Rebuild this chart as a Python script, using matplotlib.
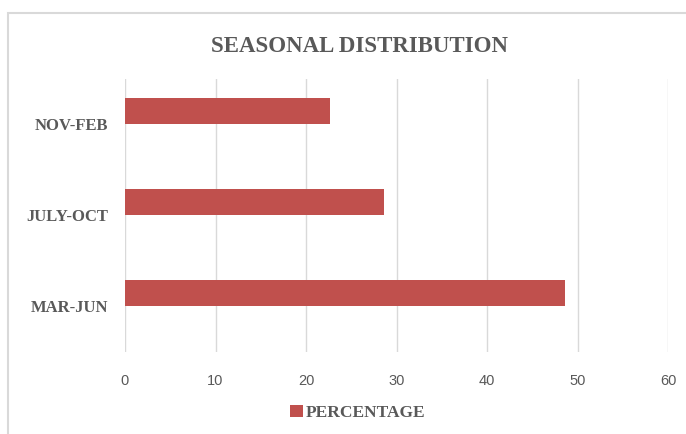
import matplotlib.pyplot as plt
from matplotlib.patches import Rectangle

# Répartition saisonnière (%)
saisons = ['MAR-JUN', 'JULY-OCT', 'NOV-FEB']
pourcentage = [48.6, 28.6, 22.6]
graduations = [0, 10, 20, 30, 40, 50, 60]

rouge = '#C0504D'
gris_texte = '#595959'
gris_grille = '#D9D9D9'

fig = plt.figure(figsize=(6.86, 4.34), dpi=100)
ax = fig.add_axes([0.1822, 0.189, 0.792, 0.629])

# cadre du graphique
fig.patches.append(Rectangle((8 / 686, -0.1), 1.1, (434 - 13) / 434 + 0.1,
                             transform=fig.transFigure, fill=False,
                             edgecolor='#D9D9D9', linewidth=1.5))

pos = range(len(saisons))
hauteur = 0.29
ax.barh([p + hauteur / 2 for p in pos], pourcentage, height=hauteur,
        color=rouge, label='PERCENTAGE', zorder=3)

ax.set_xlim(0, 60)
ax.set_ylim(-0.5, 2.5)
ax.set_xticks(graduations)
ax.set_xticklabels([str(g) for g in graduations], fontsize=10.5,
                   color=gris_texte, family='Liberation Sans')
ax.set_yticks(list(pos))
ax.set_yticklabels(saisons, fontsize=12, color=gris_texte,
                   family='Liberation Serif', fontweight='bold')
ax.tick_params(axis='x', length=0, pad=16)
ax.tick_params(axis='y', length=0, pad=12)

ax.grid(axis='x', color=gris_grille, linewidth=1, zorder=0)
for s in ax.spines.values():
    s.set_visible(False)

fig.text(360 / 686, 1 - 47 / 434, 'SEASONAL DISTRIBUTION', ha='center',
         va='center', fontsize=16.5, fontweight='bold', color=gris_texte,
         family='Liberation Serif')

fig.legend(loc='center', bbox_to_anchor=(358 / 686, 1 - 413 / 434),
           frameon=False, handlelength=0.7, handleheight=0.7,
           handletextpad=0.2,
           prop={'family': 'Liberation Serif', 'weight': 'bold', 'size': 12.5})
for t in fig.legends[0].get_texts():
    t.set_color(gris_texte)

fig.savefig('out.png', dpi=100)
